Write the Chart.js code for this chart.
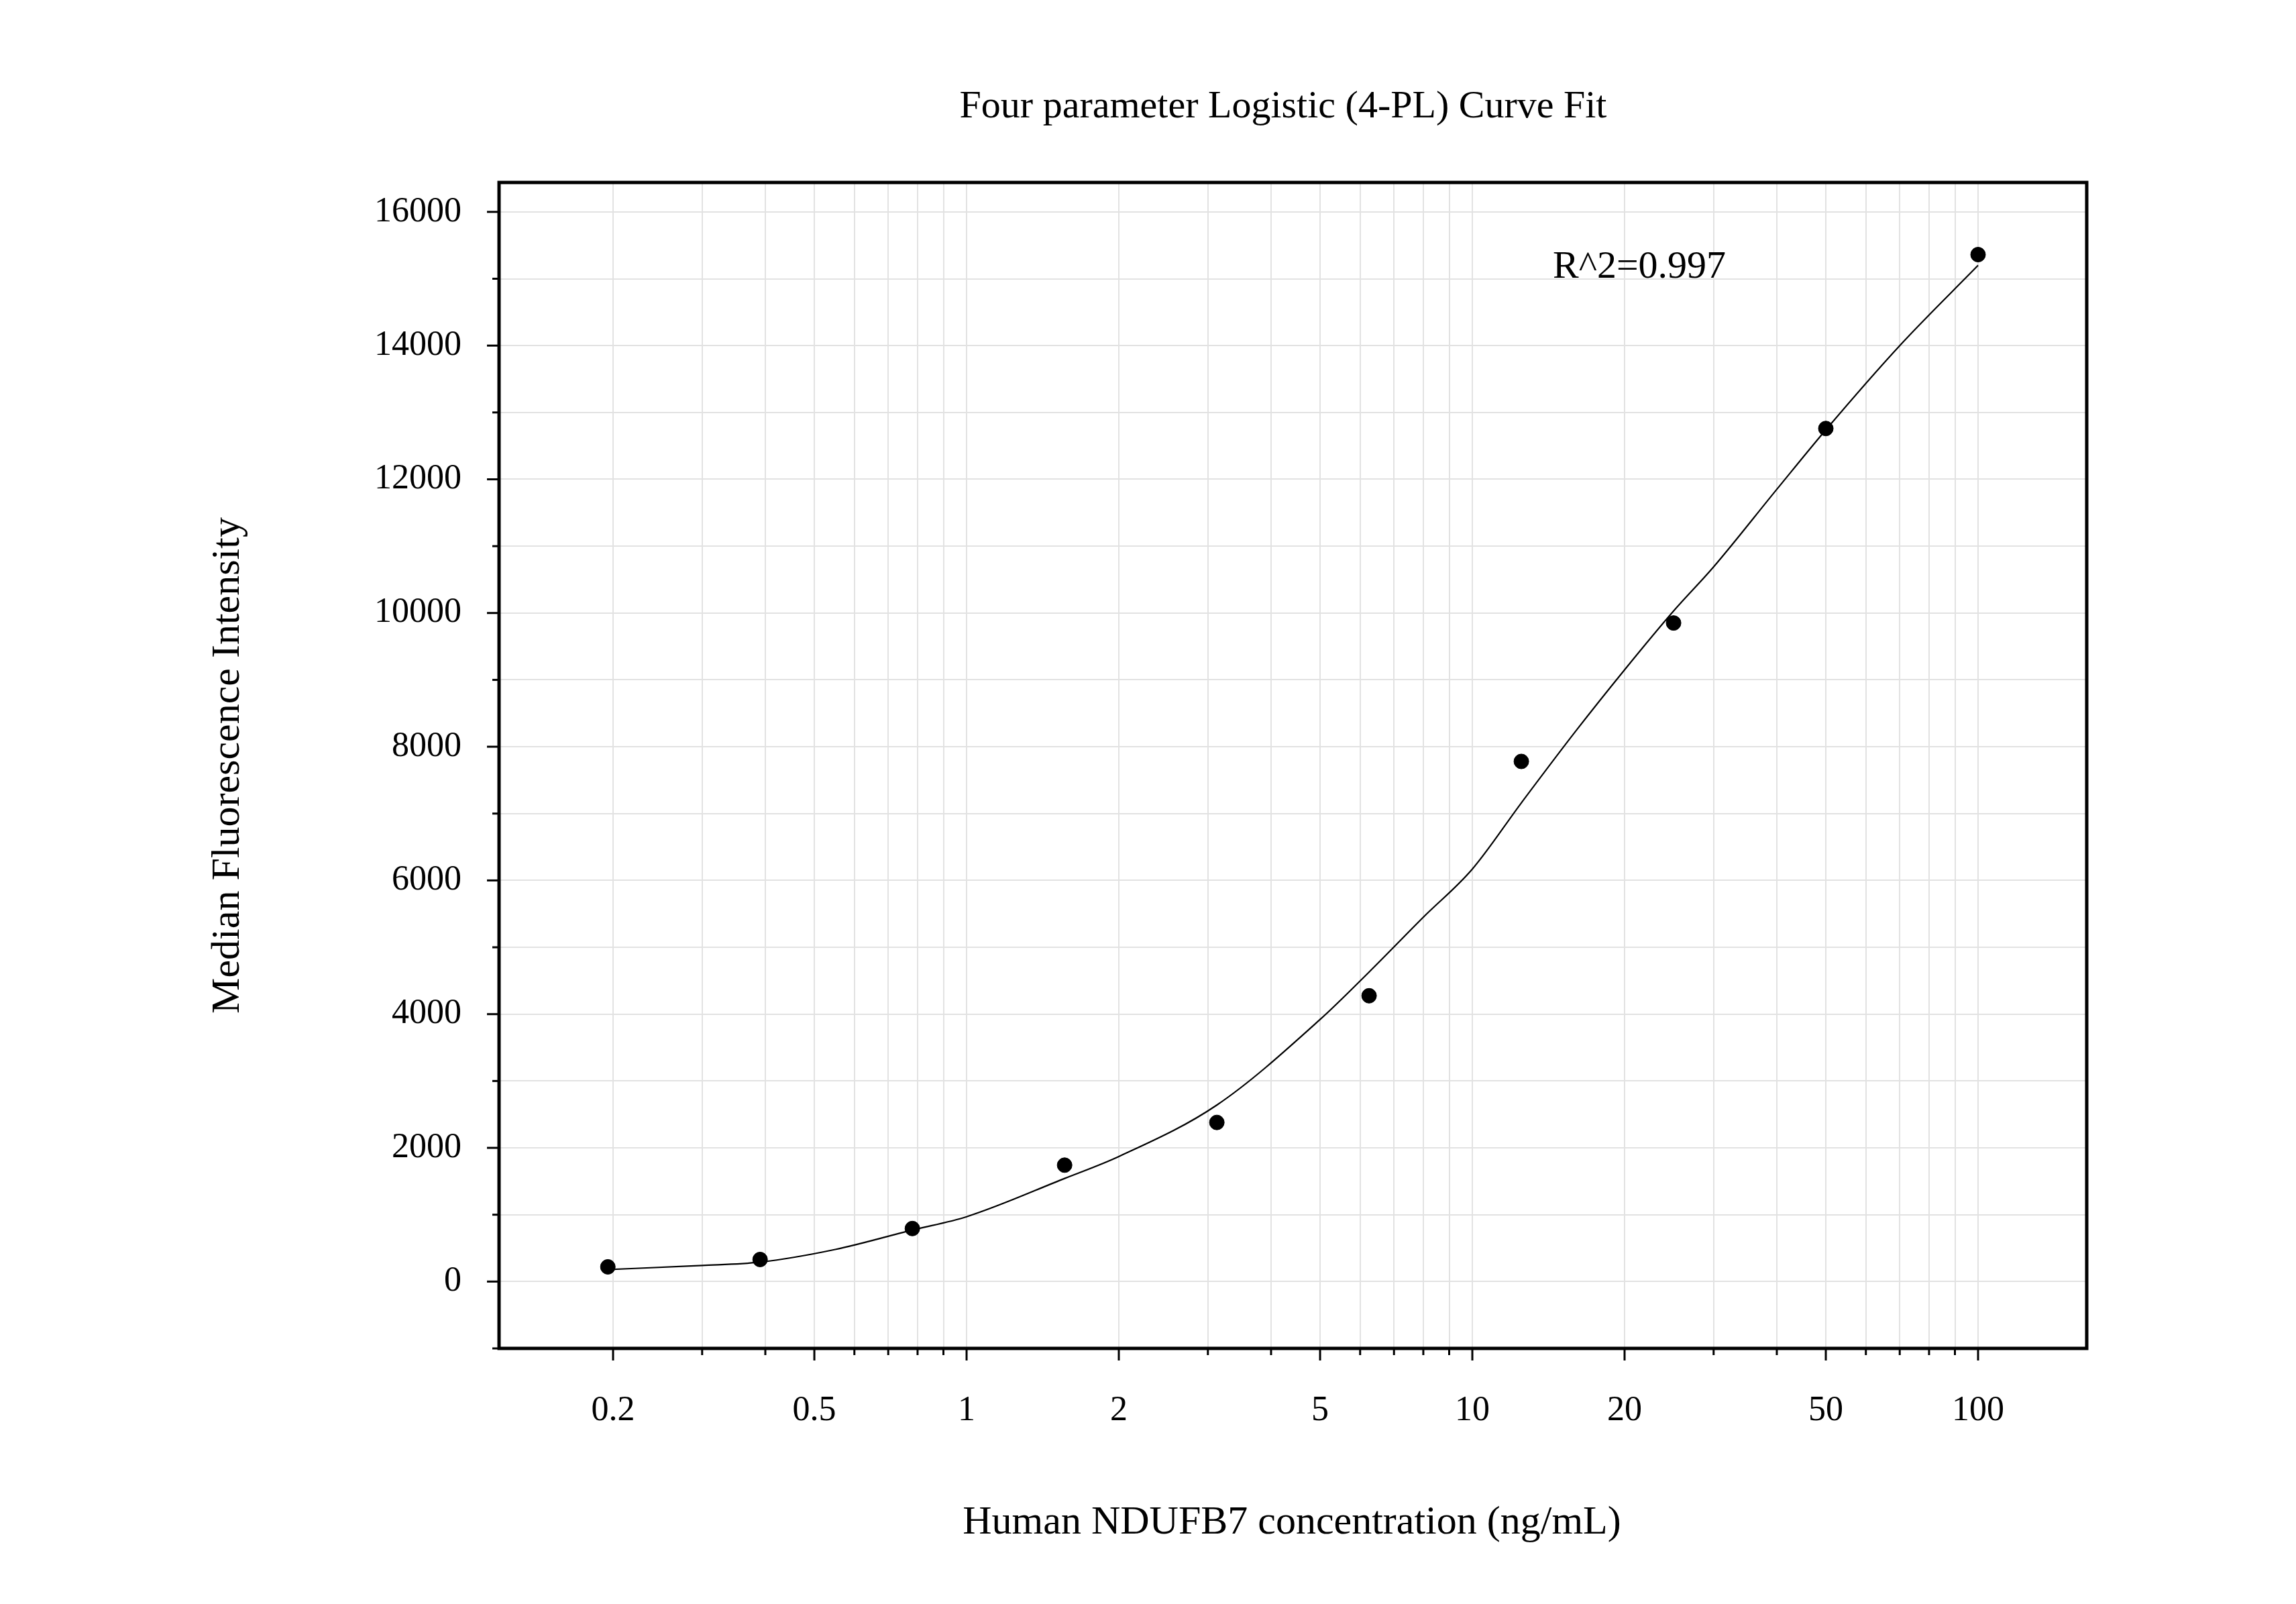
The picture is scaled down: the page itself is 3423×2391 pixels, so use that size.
<!DOCTYPE html>
<html><head><meta charset="utf-8">
<script src="https://cdn.jsdelivr.net/npm/chart.js@4"></script>
<style>html,body{margin:0;padding:0;background:#fff}#c{display:block}</style>
</head><body>
<canvas id="c" width="3423" height="2391"></canvas>
<script>
const concentrations = [0.1953, 0.3906, 0.78125, 1.5625, 3.125, 6.25, 12.5, 25, 50, 100];
const mfi = [220, 330, 793, 1741, 2380, 4275, 7780, 9851, 12760, 15361];
const curveX = [0.19, 0.3, 0.39, 0.55, 0.78, 1, 1.56, 2, 3.125, 5, 6.25, 8, 10, 12.5, 16, 20, 25, 30, 40, 50, 70, 100];
const curveY = [176, 240, 290, 480, 770, 970, 1540, 1870, 2640, 3920, 4630, 5450, 6170, 7160, 8230, 9150, 10030, 10690, 11850, 12740, 14000, 15200];
const xLabels = [0.2, 0.5, 1, 2, 5, 10, 20, 50, 100];
const yLabels = [0, 2000, 4000, 6000, 8000, 10000, 12000, 14000, 16000];
const titleText = "Four parameter Logistic (4-PL) Curve Fit";
const xTitle = "Human NDUFB7 concentration (ng/mL)";
const yTitle = "Median Fluorescence Intensity";
const r2Text = "R^2=0.997";

const FONT = "'Liberation Serif', 'Times New Roman', serif";
const xMin = 0.119, xMax = 164, yMin = -1000, yMax = 16440;

function minorLogs(){
  const out=[];
  for (let e=-1; e<=2; e++) for (let m=1; m<=9; m++){
    const v = +(m*Math.pow(10,e)).toPrecision(6);
    if (v>=xMin && v<=xMax) out.push(v);
  }
  return out;
}
const isXLabel = v => xLabels.some(l => Math.abs(l-v)/l < 1e-6);

const decor = {
  id:'decor',
  afterDraw(chart){
    const ctx = chart.ctx, a = chart.chartArea;
    const xs = chart.scales.x, ys = chart.scales.y;
    ctx.save();
    ctx.strokeStyle='#000';
    // ticks
    ctx.lineWidth=3;
    minorLogs().forEach(v=>{
      const px = xs.getPixelForValue(v);
      const len = isXLabel(v) ? 18 : 10;
      ctx.beginPath(); ctx.moveTo(px,a.bottom); ctx.lineTo(px,a.bottom+len); ctx.stroke();
    });
    for (let v=-1000; v<=16000; v+=1000){
      const py = ys.getPixelForValue(v);
      const len = (v%2000===0) ? 18 : 10;
      ctx.beginPath(); ctx.moveTo(a.left,py); ctx.lineTo(a.left-len,py); ctx.stroke();
    }
    // border
    ctx.lineWidth=5;
    ctx.strokeRect(a.left,a.top,a.right-a.left,a.bottom-a.top);
    // texts
    ctx.fillStyle='#000';
    ctx.textAlign='center'; ctx.textBaseline='middle';
    ctx.font = `58px ${FONT}`;
    ctx.fillText(titleText, 1913, 160);
    ctx.font = `60px ${FONT}`;
    ctx.fillText(xTitle, 1926, 2270);
    ctx.save(); ctx.translate(340, 1141); ctx.rotate(-Math.PI/2);
    ctx.fillText(yTitle, 0, 0); ctx.restore();
    ctx.textAlign='left';
    ctx.font = `58px ${FONT}`;
    ctx.fillText(r2Text, 2315, 399);
    ctx.restore();
  }
};

new Chart(document.getElementById('c'), {
  type:'scatter',
  data:{datasets:[
    {type:'line', data:curveX.map((x,i)=>({x, y:curveY[i]})), borderColor:'#000', borderWidth:2.2, pointRadius:0, tension:0.4, fill:false, cubicInterpolationMode:'monotone'},
    {data:concentrations.map((x,i)=>({x, y:mfi[i]})), backgroundColor:'#000', borderColor:'#000', pointRadius:11}
  ]},
  options:{
    responsive:false, animation:false, devicePixelRatio:1,
    layout:{padding:{left:0, top:272, right:312, bottom:0}},
    plugins:{legend:{display:false}, tooltip:{enabled:false}},
    scales:{
      x:{type:'logarithmic', min:xMin, max:xMax,
        afterFit(s){ s.height = 381; },
        afterBuildTicks(s){ s.ticks = minorLogs().map(v=>({value:v})); },
        grid:{color:'#e2e2e2', lineWidth:2, drawTicks:false},
        border:{display:false},
        ticks:{autoSkip:false, maxRotation:0, padding:62, color:'#000', font:{family:FONT, size:52},
          callback:(v)=> isXLabel(v) ? String(v) : ''}
      },
      y:{min:yMin, max:yMax,
        afterFit(s){ s.width = 744; },
        afterBuildTicks(s){ const t=[]; for(let v=-1000; v<=16000; v+=1000) t.push({value:v}); s.ticks=t; },
        grid:{color:'#e2e2e2', lineWidth:2, drawTicks:false},
        border:{display:false},
        ticks:{autoSkip:false, padding:56, color:'#000', font:{family:FONT, size:52},
          callback:(v)=> yLabels.includes(v) ? String(v) : ''}
      }
    }
  },
  plugins:[decor]
});
</script>
</body></html>
